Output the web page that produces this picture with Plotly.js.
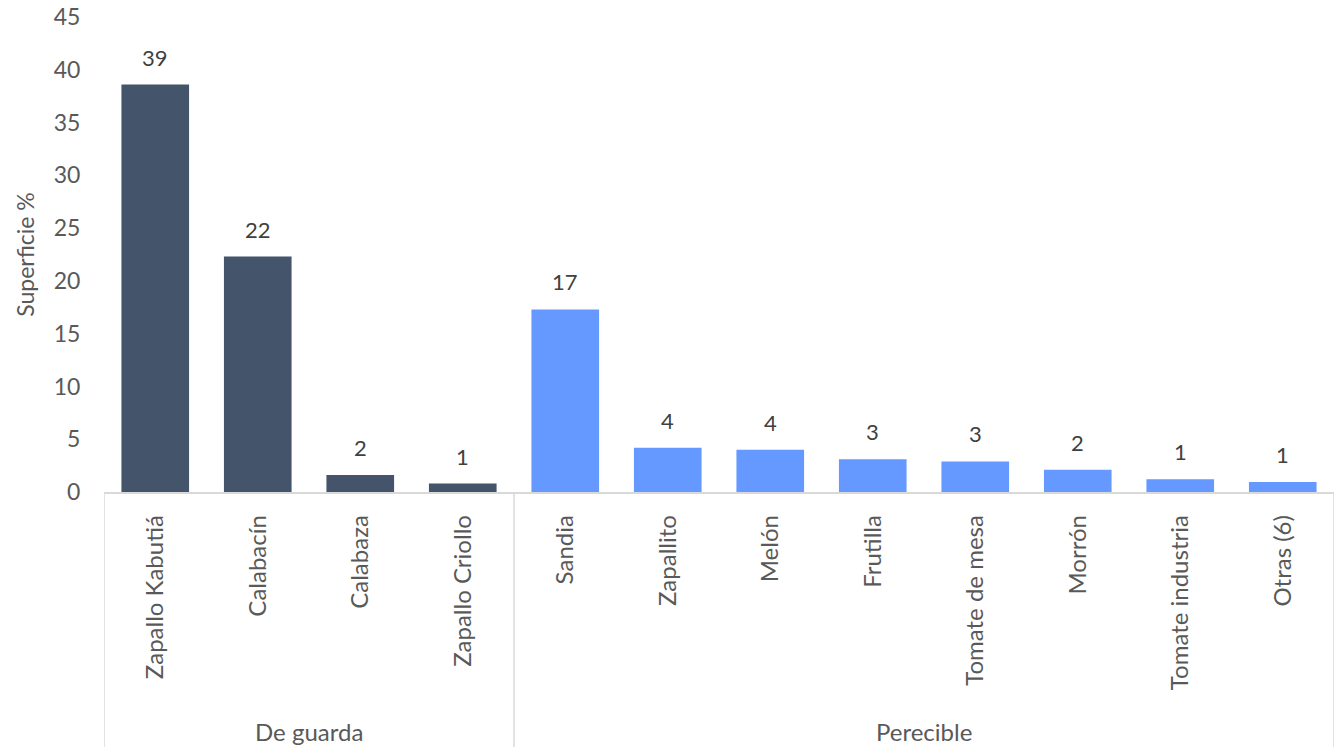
<!DOCTYPE html>
<html>
<head>
<meta charset="utf-8">
<script src="https://cdn.plot.ly/plotly-3.0.1.min.js"></script>
<style>html,body{margin:0;padding:0;background:#fff;}#chart{width:1341px;height:747px;}</style>
</head>
<body>
<div id="chart"></div>
<script>
const categories = ["Zapallo Kabutiá","Calabacín","Calabaza","Zapallo Criollo","Sandia","Zapallito","Melón","Frutilla","Tomate de mesa","Morrón","Tomate industria","Otras (6)"];
const groups = ["De guarda","De guarda","De guarda","De guarda","Perecible","Perecible","Perecible","Perecible","Perecible","Perecible","Perecible","Perecible"];
const values = [38.6, 22.3, 1.6, 0.8, 17.3, 4.2, 4.0, 3.1, 2.9, 2.1, 1.2, 0.95];
const labels = ["39","22","2","1","17","4","4","3","3","2","1","1"];
const groupNames = ["De guarda","Perecible"];
const groupColors = {"De guarda":"#44546A","Perecible":"#6699FF"};

const FONT = "Lato, 'Open Sans', sans-serif";
const TXT = "#595959";

const trace = {
  type: "bar",
  x: categories,
  y: values,
  marker: {color: groups.map(g => groupColors[g])},
  hoverinfo: "x+y"
};

// group boundaries (in category index units)
const bounds = [];
const groupCenters = [];
groupNames.forEach((g, gi) => {
  const idx = groups.map((v,i)=>v===g?i:-1).filter(i=>i>=0);
  const s = Math.min(...idx), e = Math.max(...idx);
  groupCenters.push({name:g, x:(s+e)/2});
  bounds.push(s-0.5);
  if (gi === groupNames.length-1) bounds.push(e+0.5);
});

const shapes = bounds.map(b => ({
  type: "line", xref: "x", yref: "paper",
  x0: b, x1: b, y0: 0, y1: -0.54,
  line: {color: "#D9D9D9", width: 1.5}
}));

const groupAnn = groupCenters.map(gc => ({
  xref: "x", yref: "paper", x: gc.x, y: -0.505,
  text: gc.name, showarrow: false,
  font: {family: FONT, size: 24, color: TXT},
  yanchor: "middle"
}));

const valueAnn = categories.map((c, i) => ({
  xref: "x", yref: "y", x: c, y: values[i],
  text: labels[i], showarrow: false,
  yanchor: "bottom", yshift: 12,
  font: {family: FONT, size: 22, color: "#404040"}
}));

const layout = {
  width: 1341, height: 747,
  margin: {l: 103.5, r: 7, t: 17, b: 255},
  paper_bgcolor: "#fff", plot_bgcolor: "#fff",
  bargap: 0.34,
  showlegend: false,
  font: {family: FONT, color: TXT},
  xaxis: {
    type: "category",
    tickangle: -90,
    tickfont: {family: FONT, size: 24, color: TXT},
    ticks: "outside", ticklen: 12, tickcolor: "rgba(0,0,0,0)",
    showline: true, linecolor: "#D9D9D9", linewidth: 1.5,
    showgrid: false, zeroline: false,
    range: [-0.5, 11.5]
  },
  yaxis: {
    range: [0, 45], dtick: 5, tick0: 0,
    tickfont: {family: FONT, size: 23, color: TXT},
    ticks: "outside", ticklen: 18, tickcolor: "rgba(0,0,0,0)",
    showline: false, showgrid: false, zeroline: false,
    title: {text: "Superficie %", font: {family: FONT, size: 23, color: TXT}, standoff: 12}
  },
  shapes: shapes,
  annotations: valueAnn.concat(groupAnn)
};

Plotly.newPlot("chart", [trace], layout, {displayModeBar: false, staticPlot: true});
</script>
</body>
</html>
